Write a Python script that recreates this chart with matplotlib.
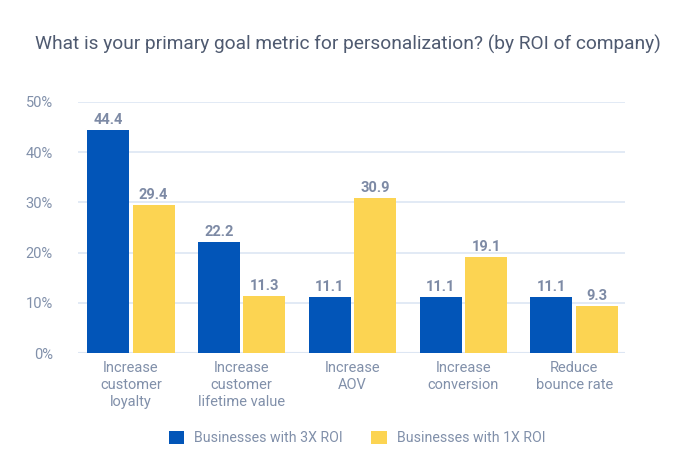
import matplotlib.pyplot as plt
import numpy as np

# Values (percent)
categories = ['Increase\ncustomer\nloyalty', 'Increase\ncustomer\nlifetime value',
              'Increase\nAOV', 'Increase\nconversion', 'Reduce\nbounce rate']
roi_3x = [44.4, 22.2, 11.1, 11.1, 11.1]
roi_1x = [29.4, 11.3, 30.9, 19.1, 9.3]
series_names = ['Businesses with 3X ROI', 'Businesses with 1X ROI']

plt.rcParams['font.family'] = ['Roboto', 'DejaVu Sans']
blue = '#0255b8'
yellow = '#fcd452'
text_col = '#8190aa'
label_col = '#7d8aa5'

fig = plt.figure(figsize=(7.0, 4.72), dpi=100)
ax = fig.add_axes([0.111, 0.252, 0.782, 0.532])

x = np.arange(len(categories))
w = 0.38
b1 = ax.bar(x - w / 2 - 0.015, roi_3x, w, color=blue, label=series_names[0], zorder=3)
b2 = ax.bar(x + w / 2 + 0.015, roi_1x, w, color=yellow, label=series_names[1], zorder=3)

for bars, vals in [(b1, roi_3x), (b2, roi_1x)]:
    for bar, v in zip(bars, vals):
        ax.text(bar.get_x() + bar.get_width() / 2, v + 0.6, f'{v}', ha='center', va='bottom',
                fontsize=10.5, fontweight='bold', color=label_col)

ax.set_ylim(0, 50)
ax.set_xlim(-0.48, 4.46)
ax.set_yticks(range(0, 51, 10))
ax.set_yticklabels([f'{t}%' for t in range(0, 51, 10)], fontsize=10.5, color=text_col)
ax.set_xticks(x)
ax.set_xticklabels(categories, fontsize=10.5, color=text_col, linespacing=1.25)
ax.tick_params(length=0, axis='both')
ax.tick_params(axis='y', pad=18)
ax.tick_params(axis='x', pad=6)
ax.yaxis.grid(True, color='#dde6f3', linewidth=1.2, zorder=0)
ax.set_axisbelow(True)
for s in ax.spines.values():
    s.set_visible(False)
ax.axhline(0, color='#dde6f3', linewidth=1.5, zorder=1)

fig.text(0.05, 0.905, 'What is your primary goal metric for personalization? (by ROI of company)',
         fontsize=13.8, color='#4f5a70', ha='left', va='center')

fig.legend(loc='center', bbox_to_anchor=(0.51, 0.072), ncol=2, frameon=False,
           fontsize=10.2, labelcolor=text_col, handlelength=1.1, handleheight=1.1,
           columnspacing=2.0, handletextpad=0.7)

fig.savefig('out.png', dpi=100, facecolor='white')
